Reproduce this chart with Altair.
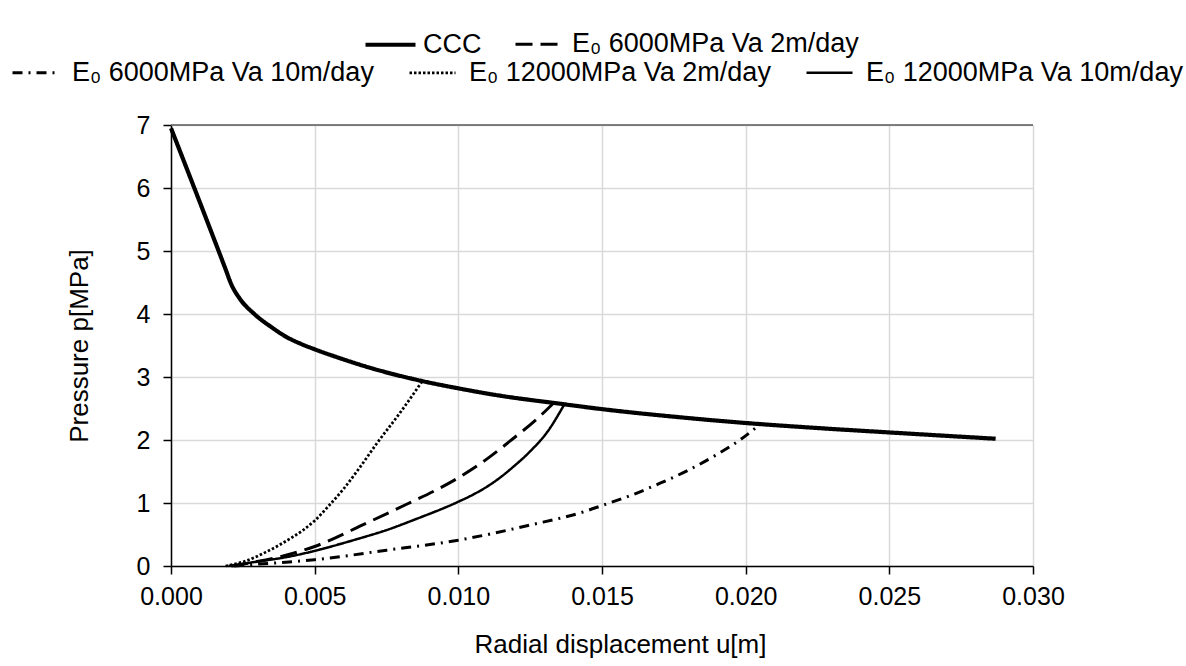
import altair as alt
import pandas as pd

# ---- data ----
ccc_u = [0.0, 0.0019, 0.0021, 0.0024, 0.0029, 0.0035, 0.004, 0.0045, 0.005, 0.006,
         0.0069, 0.0087, 0.010, 0.0115, 0.0133, 0.015, 0.0175, 0.020, 0.0225, 0.025, 0.0287]
ccc_p = [6.95, 4.71, 4.47, 4.24, 4.00, 3.79, 3.64, 3.53, 3.44, 3.28,
         3.15, 2.94, 2.82, 2.70, 2.59, 2.49, 2.37, 2.27, 2.19, 2.12, 2.02]

e6_v2_u = [0.0021, 0.003, 0.004, 0.005, 0.0068, 0.0082, 0.0092, 0.010, 0.011, 0.0119,
           0.0127, 0.0133]
e6_v2_p = [0.0, 0.07, 0.17, 0.31, 0.68, 0.98, 1.20, 1.40, 1.70, 2.02,
           2.32, 2.58]

e6_v10_u = [0.0022, 0.003, 0.004, 0.005, 0.0075, 0.010, 0.0125, 0.01443, 0.015,
            0.016, 0.017, 0.018, 0.019, 0.0198, 0.0205]
e6_v10_p = [0.0, 0.03, 0.06, 0.10, 0.25, 0.41, 0.65, 0.87, 0.96,
            1.12, 1.31, 1.52, 1.77, 2.00, 2.25]

e12_v2_u = [0.0019, 0.0026, 0.0033, 0.0042, 0.0046, 0.005, 0.0055, 0.006, 0.0065,
            0.00717, 0.008, 0.00874]
e12_v2_p = [0.0, 0.08, 0.22, 0.45, 0.57, 0.72, 0.96, 1.22, 1.52,
            1.95, 2.45, 2.93]

e12_v10_u = [0.0020, 0.003, 0.004, 0.005, 0.0055, 0.0065, 0.0075, 0.0085, 0.010,
             0.0105, 0.011, 0.0115, 0.0119, 0.0125, 0.0131, 0.01367]
e12_v10_p = [0.0, 0.07, 0.14, 0.24, 0.30, 0.43, 0.57, 0.74, 1.02,
             1.13, 1.26, 1.42, 1.57, 1.82, 2.13, 2.55]

names = ["CCC",
         "E\u2080 6000MPa Va 2m/day",
         "E\u2080 6000MPa Va 10m/day",
         "E\u2080 12000MPa Va 2m/day",
         "E\u2080 12000MPa Va 10m/day"]
x_ticks = [0.0, 0.005, 0.010, 0.015, 0.020, 0.025, 0.030]
y_ticks = [0, 1, 2, 3, 4, 5, 6, 7]


def frame(name, us, ps):
    return pd.DataFrame({"u": us, "p": ps, "series": name})


df_a = pd.concat([frame(names[0], ccc_u, ccc_p),
                  frame(names[1], e6_v2_u, e6_v2_p)])
df_b = pd.concat([frame(names[2], e6_v10_u, e6_v10_p),
                  frame(names[3], e12_v2_u, e12_v2_p),
                  frame(names[4], e12_v10_u, e12_v10_p)])

FONT = "Liberation Sans"

x_enc = alt.X("u:Q", scale=alt.Scale(domain=[0, 0.030], nice=False),
              axis=alt.Axis(values=x_ticks, format=".3f", labelFlush=False,
                            title="Radial displacement u[m]", titleX=449))
y_enc = alt.Y("p:Q", scale=alt.Scale(domain=[0, 7], nice=False),
              axis=alt.Axis(values=y_ticks, format="d", title="Pressure p[MPa]"))


def legend(x, y, size, offset, pad):
    return alt.Legend(orient="none", legendX=x, legendY=y, direction="horizontal",
                      title=None, symbolType="stroke", symbolSize=size,
                      symbolStrokeColor="black", labelOffset=offset,
                      columnPadding=pad, labelFont=FONT, labelFontSize=27,
                      labelColor="black", labelLimit=600, padding=0)


leg_a = legend(192, -108, 2500, 5, 27)
leg_b = legend(-160, -77, 2116, 12, 30)

layer_a = alt.Chart(df_a).mark_line(color="black", interpolate="monotone",
                                    strokeCap="butt").encode(
    x=x_enc, y=y_enc,
    strokeDash=alt.StrokeDash("series:N",
                              scale=alt.Scale(domain=names[:2], range=[[1, 0], [17, 8]]),
                              legend=leg_a, sort=names[:2]),
    strokeWidth=alt.StrokeWidth("series:N",
                                scale=alt.Scale(domain=names[:2], range=[4.2, 3]),
                                legend=leg_a, sort=names[:2]),
)

layer_b = alt.Chart(df_b).mark_line(color="black", interpolate="monotone",
                                    strokeCap="butt").encode(
    x=x_enc, y=y_enc,
    strokeDash=alt.StrokeDash("series:N",
                              scale=alt.Scale(domain=names[2:],
                                              range=[[10, 6, 2, 6], [2.5, 2], [1, 0]]),
                              legend=leg_b, sort=names[2:]),
    strokeWidth=alt.StrokeWidth("series:N",
                                scale=alt.Scale(domain=names[2:], range=[3, 2.5, 1.2]),
                                legend=leg_b, sort=names[2:]),
)

top_rule = alt.Chart(pd.DataFrame({"p": [7]})).mark_rule(
    color="#595959", strokeWidth=1.5).encode(y=alt.Y("p:Q"))

chart = alt.layer(top_rule, layer_b, layer_a).resolve_scale(
    strokeDash="independent", strokeWidth="independent"
).properties(
    width=862, height=441,
    autosize=alt.AutoSizeParams(type="none"),
    padding={"left": 171, "top": 125, "right": 153, "bottom": 100},
    background="white",
).configure_view(stroke=None).configure_axis(
    labelFont=FONT, titleFont=FONT, labelFontSize=25, titleFontSize=26,
    labelColor="black", titleColor="black", titleFontWeight="normal",
    domainColor="black", domainWidth=1.5, tickColor="black", tickWidth=1.5,
    tickSize=8, gridColor="#d9d9d9", gridWidth=1.5,
).configure_axisX(labelPadding=10, titlePadding=22).configure_axisY(
    labelPadding=13, titlePadding=44)

chart.save("out.html", embed_options={"renderer": "svg", "actions": False})
